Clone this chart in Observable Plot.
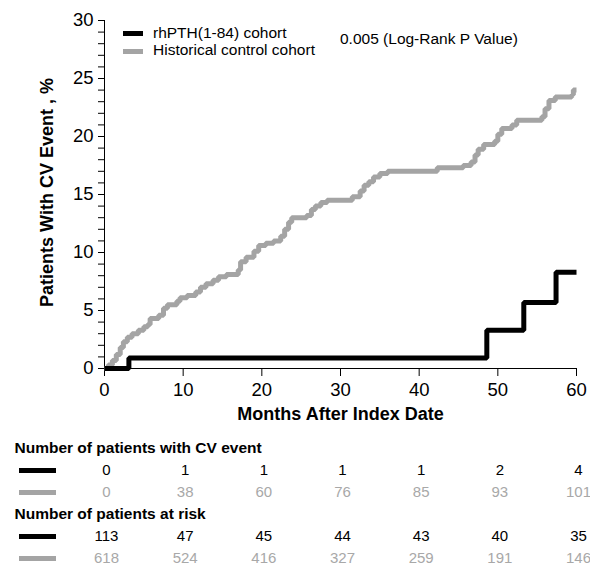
<!DOCTYPE html>
<html>
<head>
<meta charset="utf-8">
<script src="https://cdn.jsdelivr.net/npm/d3@7"></script>
<script src="https://cdn.jsdelivr.net/npm/@observablehq/plot@0.6"></script>
<style>
  html, body { margin: 0; padding: 0; background: #fff; }
  body { font-family: "Liberation Sans", Arial, Helvetica, sans-serif; }
  #wrap { position: relative; width: 590px; height: 567px; overflow: hidden; }
  #wrap svg { display: block; font-family: "Liberation Sans", Arial, Helvetica, sans-serif; }
  .sw { position: absolute; height: 5px; }
  .lg { position: absolute; font-size: 15.5px; line-height: 18px; color: #000; white-space: nowrap; }
</style>
</head>
<body>
<div id="wrap"></div>
<script>
// ---- data ----
const seriesNames = ["rhPTH(1-84) cohort", "Historical control cohort"];
const seriesColors = ["#000000", "#a4a4a4"];
const pValueText = "0.005 (Log-Rank P Value)";
const xTitle = "Months After Index Date";
const yTitle = "Patients With CV Event , %";

// Kaplan-Meier style cumulative event curves: [month, percent]
const rhCurve = [[0, 0], [3.1, 0.9], [48.6, 3.3], [53.3, 5.7], [57.4, 8.3], [60, 8.3]];
const ctrlCurve = [
  [0, 0], [0.5, 0.3], [1.0, 0.7], [1.5, 1.2], [2.0, 1.8], [2.4, 2.3], [2.9, 2.7],
  [3.5, 3.0], [4.3, 3.3], [5.0, 3.6], [5.5, 3.8], [5.8, 4.3], [6.9, 4.6], [7.5, 5.2],
  [8.0, 5.5], [9.2, 5.8], [9.6, 6.1], [10.5, 6.3], [11.6, 6.6], [12.2, 7.0], [12.9, 7.3],
  [13.8, 7.6], [14.5, 7.9], [15.5, 8.1], [17.0, 8.5], [17.3, 9.2], [18.0, 9.6], [19.0, 10.1],
  [19.6, 10.6], [20.5, 10.8], [21.5, 11.0], [22.4, 11.4], [22.9, 12.0], [23.4, 12.6],
  [23.8, 13.0], [25.7, 13.2], [26.3, 13.7], [26.8, 14.0], [27.5, 14.3], [28.3, 14.5],
  [31.5, 14.8], [32.5, 15.3], [33.0, 15.8], [33.6, 16.1], [34.2, 16.5], [35.0, 16.8],
  [36.0, 17.0], [42.3, 17.3], [45.6, 17.5], [46.6, 17.8], [47.1, 18.4], [47.5, 18.9],
  [48.2, 19.3], [49.6, 19.6], [50.0, 20.2], [50.5, 20.7], [51.8, 21.0], [52.4, 21.4],
  [55.6, 21.7], [56.0, 22.4], [56.5, 23.1], [57.3, 23.4], [59.4, 23.6], [59.6, 24.0], [60, 24.0]
];

const xTicks = [0, 10, 20, 30, 40, 50, 60];
const yTicks = [0, 5, 10, 15, 20, 25, 30];
const yMinorTicks = [0,1,2,3,4,5,6,7,8,9,10,11,12,13,14,15,16,17,18,19,20,21,22,23,24,25,26,27,28,29,30];

// table
const tableMonths = [0, 10, 20, 30, 40, 50, 60];
const eventsHeader = "Number of patients with CV event";
const riskHeader = "Number of patients at risk";
const rhEvents = [0, 1, 1, 1, 1, 2, 4];
const ctrlEvents = [0, 38, 60, 76, 85, 93, 101];
const rhRisk = [113, 47, 45, 44, 43, 40, 35];
const ctrlRisk = [618, 524, 416, 327, 259, 191, 146];

const FONT = '"Liberation Sans", Arial, Helvetica, sans-serif';
const wrap = document.getElementById("wrap");

// ---- main chart ----
const main = Plot.plot({
  width: 590,
  height: 432,
  marginLeft: 104,
  marginRight: 14,
  marginTop: 20,
  marginBottom: 64,
  style: { fontFamily: FONT, color: "#000", background: "#fff" },
  x: { domain: [0, 60], label: null },
  y: { domain: [0, 30], label: null },
  marks: [
    Plot.axisY(yMinorTicks, { tickSize: 6, tickFormat: () => "", label: null }),
    Plot.axisY(yTicks, { tickSize: 6, tickPadding: 5, fontSize: 18.5, label: null }),
    Plot.axisX(xTicks, { tickSize: 8, tickPadding: 6, fontSize: 18.5, label: null }),
    Plot.ruleX([0], { stroke: "#000" }),
    Plot.ruleY([0], { stroke: "#000" }),
    Plot.line(ctrlCurve, {
      x: d => d[0], y: d => d[1], curve: "step-after",
      stroke: seriesColors[1], strokeWidth: 5, strokeLinejoin: "miter", strokeLinecap: "butt"
    }),
    Plot.line(rhCurve, {
      x: d => d[0], y: d => d[1], curve: "step-after",
      stroke: seriesColors[0], strokeWidth: 5, strokeLinejoin: "miter", strokeLinecap: "butt"
    }),
    Plot.text([yTitle], {
      text: d => d, frameAnchor: "left", textAnchor: "middle", rotate: -90, dx: -57, dy: -2,
      fontSize: 18, fontWeight: "bold", fill: "#000"
    }),
    Plot.text([xTitle], {
      text: d => d, frameAnchor: "bottom", dy: 51,
      fontSize: 18, fontWeight: "bold", fill: "#000"
    })
  ]
});
wrap.appendChild(main);

// ---- number table ----
const rowKeys = ["h1", "e1", "e2", "h2", "r1", "r2"];
const tableCells = [];
tableMonths.forEach((m, i) => {
  tableCells.push({ m, row: "e1", v: rhEvents[i], c: "#000" });
  tableCells.push({ m, row: "e2", v: ctrlEvents[i], c: "#a8a8a8" });
  tableCells.push({ m, row: "r1", v: rhRisk[i], c: "#000" });
  tableCells.push({ m, row: "r2", v: ctrlRisk[i], c: "#a8a8a8" });
});
const headers = [{ row: "h1", label: eventsHeader }, { row: "h2", label: riskHeader }];

const table = Plot.plot({
  width: 590,
  height: 135,
  marginLeft: 104,
  marginRight: 14,
  marginTop: 14,
  marginBottom: 7,
  style: { fontFamily: FONT, color: "#000", background: "#fff" },
  x: { domain: [0, 60], axis: null },
  y: { type: "point", domain: rowKeys, range: [14, 128], padding: 0, axis: null },
  marks: [
    Plot.text(tableCells, { x: "m", y: "row", text: d => String(d.v), fill: d => d.c, fontSize: 15, dx: 2 }),
    Plot.text(headers, {
      y: "row", text: "label", frameAnchor: "left", textAnchor: "start", dx: -90,
      fontSize: 15.5, fontWeight: "bold", fill: "#000"
    })
  ]
});
table.style.position = "absolute";
table.style.left = "0px";
table.style.top = "432px";
wrap.appendChild(table);

// ---- legend (top) ----
function addSwatch(left, top, width, color) {
  const d = document.createElement("div");
  d.className = "sw";
  d.style.left = left + "px";
  d.style.top = top + "px";
  d.style.width = width + "px";
  d.style.background = color;
  wrap.appendChild(d);
}
function addLabel(left, top, text) {
  const d = document.createElement("div");
  d.className = "lg";
  d.style.left = left + "px";
  d.style.top = top + "px";
  d.textContent = text;
  wrap.appendChild(d);
}
const legendRowsTop = [31, 48.5];
seriesNames.forEach((name, i) => {
  addSwatch(123, legendRowsTop[i], 20, seriesColors[i]);
  addLabel(153, legendRowsTop[i] - 7.5, name);
});
addLabel(340, 29.5, pValueText);

// ---- table swatches, positioned with the table's own y scale ----
const ty = table.scale("y");
[["e1", 0], ["e2", 1], ["r1", 0], ["r2", 1]].forEach(([row, s]) =>
  addSwatch(19, 432 + ty.apply(row) - 2.5, 37, seriesColors[s])
);
</script>
</body>
</html>
